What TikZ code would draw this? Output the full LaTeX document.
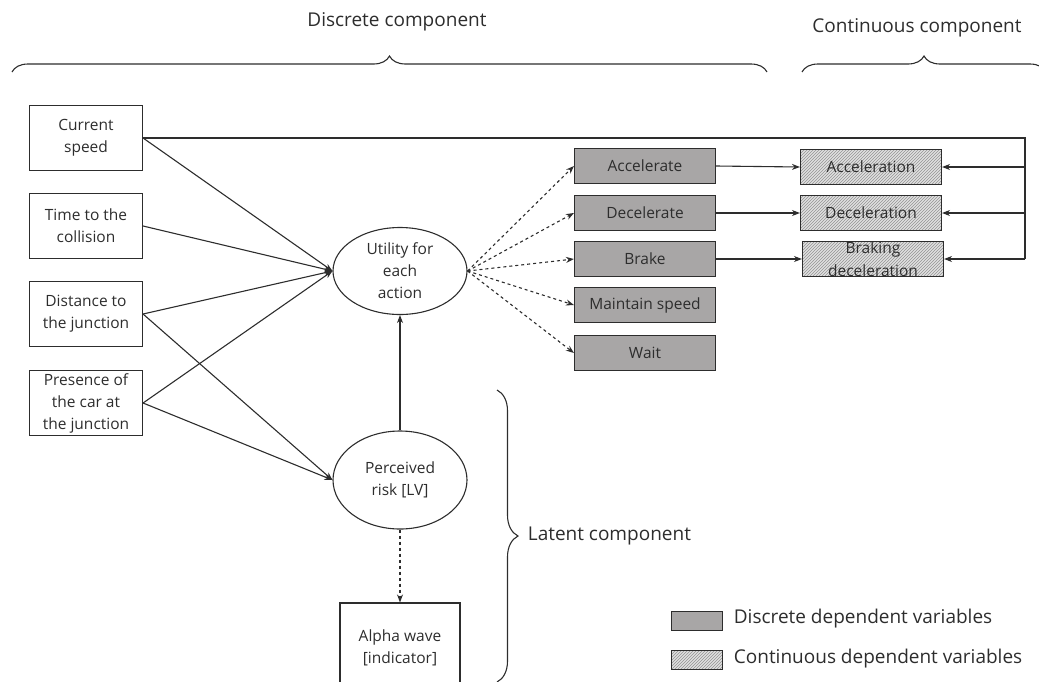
\documentclass[tikz,border=0pt]{standalone}
\usepackage{fontspec}
\setmainfont{Open Sans}
\usetikzlibrary{shapes.geometric, arrows.meta, decorations.pathreplacing, patterns}

\definecolor{ink}{RGB}{45,45,45}
\definecolor{actfill}{RGB}{168,166,166}
\definecolor{hatchbg}{RGB}{225,225,225}

\begin{document}
\begin{tikzpicture}[x=1pt, y=-1pt, line width=1.1pt, color=ink,
    >={Stealth[length=8pt,width=6pt]},
    inbox/.style={draw, minimum width=113pt, minimum height=65pt, align=center,
      inner sep=1pt, font=\fontsize{15.5}{22}\selectfont},
    latent/.style={draw, ellipse, minimum width=134pt, align=center,
      inner sep=1pt, font=\fontsize{15.5}{22}\selectfont},
    actbox/.style={draw, fill=actfill, minimum width=141pt, minimum height=35pt,
      inner sep=1pt, font=\fontsize{15.5}{22}\selectfont},
    contbox/.style={draw, preaction={fill=hatchbg}, pattern=north east lines,
      pattern color=gray!85, minimum width=141pt, minimum height=35pt,
      inner sep=1pt, font=\fontsize{15.5}{22}\selectfont},
    keybox/.style={minimum width=51pt, minimum height=19pt, inner sep=0pt},
    bigtext/.style={font=\fontsize{19}{22}\selectfont},
    brc/.style={decorate, decoration={brace, amplitude=#1}}]

  \clip (0,0) rectangle (1039,681);

  % braces and their labels
  \draw[brc=16pt] (12,72) -- (767,72);
  \node[bigtext] (dlab) at (397,22) {Discrete component};
  \draw[brc=16pt] (802,72) -- (1046,72);
  \node[bigtext] (clab) at (917,28) {Continuous component};
  \draw[brc=21pt] (497,390) -- (497,682);
  \node[bigtext, anchor=west] (llab) at (524,536) {Latent component};

  % explanatory variables
  \node[inbox] (cs)  at (86,138) {Current\\speed};
  \node[inbox] (ttc) at (86,226) {Time to the\\collision};
  \node[inbox] (dtj) at (86,314) {Distance to\\the junction};
  \node[inbox] (pcj) at (86,403) {Presence of\\the car at\\the junction};

  % latent part
  \node[latent, minimum height=87pt] (util) at (400,271) {Utility for\\each\\action};
  \node[latent, minimum height=98pt] (risk) at (400,480) {Perceived\\risk [LV]};
  \node[inbox, minimum width=120pt, minimum height=90pt] (alpha) at (400,648)
    {Alpha wave\\{[indicator]}};

  % discrete choices
  \node[actbox] (acc)  at (645,166) {Accelerate};
  \node[actbox] (dec)  at (645,213) {Decelerate};
  \node[actbox] (brk)  at (645,259) {Brake};
  \node[actbox] (mnt)  at (645,305) {Maintain speed};
  \node[actbox] (wait) at (645,353) {Wait};

  % continuous outcomes
  \node[contbox] (cacc) at (871,167) {Acceleration};
  \node[contbox] (cdec) at (871,213) {Deceleration};
  \node[contbox] (cbrk) at (873,259) {};
  \node[align=center, font=\fontsize{15.5}{23}\selectfont] (cbrkt) at (cbrk)
    {Braking\\deceleration};

  % feedback of current speed
  \coordinate (fb1) at (1025,167);
  \coordinate (fb2) at (1025,213);
  \coordinate (fb3) at (1025,259);
  \draw (cs.east) -| (fb3);

  \draw[->] (cs.east)  -- (util.west);
  \draw[->] (ttc.east) -- (util.west);
  \draw[->] (dtj.east) -- (util.west);
  \draw[->] (pcj.east) -- (util.west);
  \draw[->] (dtj.east) -- (risk.west);
  \draw[->] (pcj.east) -- (risk.west);
  \draw[->] (risk.north) -- (util.south);
  \draw[->, dashed] (risk.south) -- (alpha.north);

  \foreach \a in {acc, dec, brk, mnt, wait}
    \draw[->, dashed] (util.east) -- (\a.west);

  \draw[->] (acc.east) -- (cacc.west);
  \draw[->] (dec.east) -- (cdec.west);
  \draw[->] (brk.east) -- (cbrk.west);
  \draw[->] (fb1) -- (cacc.east);
  \draw[->] (fb2) -- (cdec.east);
  \draw[->] (fb3) -- (cbrk.east);

  % legend
  \node[keybox, draw, fill=actfill] (key1) at (697,621) {};
  \node[bigtext, anchor=west] (key1t) at (730,619) {Discrete dependent variables};
  \node[keybox, draw, preaction={fill=hatchbg}, pattern=north east lines,
    pattern color=gray!85] (key2) at (697,660) {};
  \node[bigtext, anchor=west] (key2t) at (730,659) {Continuous dependent variables};

\end{tikzpicture}
\end{document}
